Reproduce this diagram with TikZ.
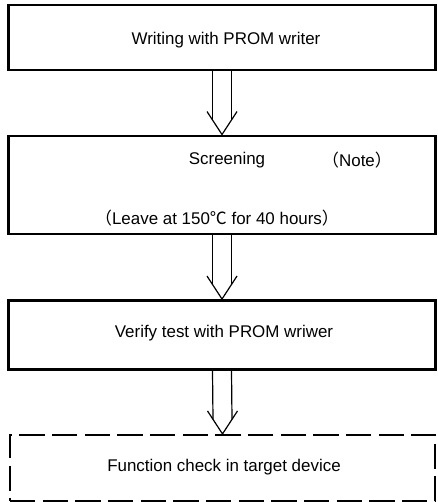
\documentclass[tikz,border=0pt]{standalone}
\usepackage{fontspec}
\setmainfont{Liberation Sans}
\newfontfamily\cjk{Noto Sans CJK JP}
\usetikzlibrary{calc}
\tikzset{
  stepbox/.style={draw, line width=2.2pt, minimum width=320.5pt, inner sep=0pt},
  dashbox/.style={draw, line width=1.6pt, dash pattern=on 19pt off 5.5pt, minimum width=319pt, inner sep=0pt},
  arrowline/.style={line width=0.9pt},
  label/.style={font=\fontsize{12.7}{15}\selectfont, inner sep=0pt}
}
\newcommand{\flowarrow}[2]{%
  \draw[arrowline] ($(#1.south)+(-9.5,0)$) -- ($(#2.north)+(-9.5,-14.6)$);
  \draw[arrowline] ($(#1.south)+(9.5,0)$) -- ($(#2.north)+(9.5,-14.6)$);
  \draw[arrowline, line join=miter] ($(#2.north)+(-15,-23)$) -- (#2.north) -- ($(#2.north)+(15,-23)$);
}
\begin{document}
\begin{tikzpicture}[x=0.75pt, y=-0.75pt]
\useasboundingbox (0,0) rectangle (437,502);
\node[stepbox, minimum height=48.75pt] (write) at (222,37.5) {};
\node[label] at (226,40) {Writing with PROM writer};
\node[stepbox, minimum height=73.5pt] (screen) at (222,185) {};
\node[label] (scrtxt) at (227,160) {Screening};
\node[label] (note) at (357,160) {{\cjk （}Note{\cjk ）}};
\node[label] (leave) at (217,218) {{\cjk （}Leave at 150{\cjk ℃} for 40 hours{\cjk ）}};
\node[stepbox, minimum height=51.75pt] (verify) at (222,335) {};
\node[label] at (224,333) {Verify test with PROM wriwer};
\node[dashbox, minimum height=49.5pt] (check) at (222.5,468) {};
\node[label] at (224,467) {Function check in target device};
\flowarrow{write}{screen}
\flowarrow{screen}{verify}
\flowarrow{verify}{check}
\end{tikzpicture}
\end{document}
